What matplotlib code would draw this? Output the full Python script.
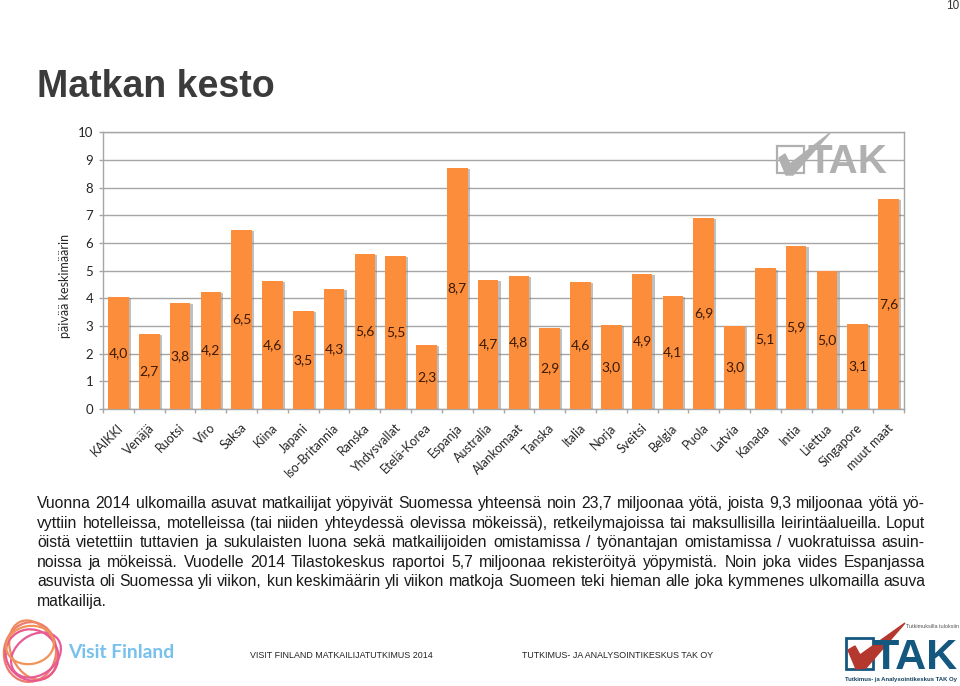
"""Matkan kesto: slide with a bar chart, a body paragraph and footer logos."""
import matplotlib
matplotlib.use("Agg")
import matplotlib.pyplot as plt
import matplotlib.patheffects as pe
from matplotlib.patches import Ellipse, Polygon, Rectangle

categories = ["KAIKKI", "Venäjä", "Ruotsi", "Viro", "Saksa", "Kiina", "Japani",
              "Iso-Britannia", "Ranska", "Yhdysvallat", "Etelä-Korea", "Espanja",
              "Australia", "Alankomaat", "Tanska", "Italia", "Norja", "Sveitsi",
              "Belgia", "Puola", "Latvia", "Kanada", "Intia", "Liettua",
              "Singapore", "muut maat"]
values = [4.05, 2.72, 3.82, 4.22, 6.47, 4.62, 3.55, 4.33, 5.6, 5.52, 2.33, 8.7,
          4.68, 4.8, 2.92, 4.58, 3.05, 4.88, 4.1, 6.92, 3.0, 5.08, 5.9, 5.0,
          3.07, 7.58]
value_labels = ["4,0", "2,7", "3,8", "4,2", "6,5", "4,6", "3,5", "4,3", "5,6",
                "5,5", "2,3", "8,7", "4,7", "4,8", "2,9", "4,6", "3,0", "4,9",
                "4,1", "6,9", "3,0", "5,1", "5,9", "5,0", "3,1", "7,6"]
y_ticks = [0, 1, 2, 3, 4, 5, 6, 7, 8, 9, 10]

body_lines = [
    "Vuonna 2014 ulkomailla asuvat matkailijat yöpyivät Suomessa yhteensä noin 23,7 miljoonaa yötä, joista 9,3 miljoonaa yötä yö-",
    "vyttiin hotelleissa, motelleissa (tai niiden yhteydessä olevissa mökeissä), retkeilymajoissa tai maksullisilla leirintäalueilla. Loput",
    "öistä vietettiin tuttavien ja sukulaisten luona sekä matkailijoiden omistamissa / työnantajan omistamissa / vuokratuissa asuin-",
    "noissa ja mökeissä. Vuodelle 2014 Tilastokeskus raportoi 5,7 miljoonaa rekisteröityä yöpymistä. Noin joka viides Espanjassa",
    "asuvista oli Suomessa yli viikon, kun keskimäärin yli viikon matkoja Suomeen teki hieman alle joka kymmenes ulkomailla asuva",
    "matkailija.",
]
body_baselines = [508, 527.6, 547.2, 566.8, 586.4, 606]

W, H = 960, 686
ORANGE = "#fb8d3b"
GRID = "#a6a6a6"
CHART_FONT = "Lato"
ARIAL = "Liberation Sans"


def justified(fig, line, y, x0, x1, stretch=True, **kw):
    # place word by word so the line fills x0..x1, like the slide's justified text
    words = line.split(" ")
    renderer = fig.canvas.get_renderer()
    items = [fig.text(0, 1 - y / H, w, va="baseline", ha="left", **kw) for w in words]
    widths = [t.get_window_extent(renderer).width for t in items]
    space = 3.6
    if stretch and len(words) > 1:
        space = (x1 - x0 - sum(widths)) / (len(words) - 1)
    x = x0
    for t, w in zip(items, widths):
        t.set_x(x / W)
        x += w + space


def main():
    fig = plt.figure(figsize=(W / 100, H / 100), dpi=100)

    # page furniture on a full-figure overlay, in pixel coordinates
    bg = fig.add_axes([0, 0, 1, 1], zorder=0)
    bg.set_xlim(0, W)
    bg.set_ylim(H, 0)
    bg.axis("off")

    # chart
    ax = fig.add_axes([103 / W, 1 - 409 / H, 801 / W, 276.7 / H], zorder=1)
    ax.patch.set_alpha(0)
    xs = range(len(categories))
    bars = ax.bar(xs, values, width=0.67, color=ORANGE, zorder=3)
    for bar in bars:
        bar.set_path_effects([
            pe.SimplePatchShadow(offset=(1.6, -0.8), shadow_rgbFace="#808080", alpha=0.5),
            pe.Normal()])
    for x, v, lab in zip(xs, values, value_labels):
        ax.text(x, v / 2, lab, ha="center", va="center", fontsize=10,
                family=CHART_FONT, color="#3a1a05", zorder=4)
    ax.set_xlim(-0.5, len(categories) - 0.5)
    ax.set_ylim(0, 10)
    ax.set_yticks(y_ticks)
    ax.set_xticks([i - 0.5 for i in range(len(categories) + 1)], minor=False)
    ax.set_xticklabels([])
    ax.tick_params(axis="x", length=3, color=GRID, width=1)
    ax.tick_params(axis="y", length=3, color=GRID, width=1, labelsize=9.5,
                   labelcolor="#262626", pad=4)
    for lab in ax.get_yticklabels():
        lab.set_family(CHART_FONT)
    ax.grid(axis="y", color=GRID, lw=1, zorder=1)
    ax.set_axisbelow(True)
    for s in ax.spines.values():
        s.set_color(GRID)
        s.set_linewidth(1)
    bg.text(65, 286, "päivää keskimäärin", fontsize=9, family=CHART_FONT,
            color="#262626", rotation=90, ha="center", va="center")
    for x, name in zip(xs, categories):
        ax.annotate(name, (x, 0), xycoords=("data", "axes fraction"),
                    xytext=(-1, -9), textcoords="offset points", rotation=45,
                    rotation_mode="anchor", ha="right", va="top",
                    fontsize=9, family=CHART_FONT, color="#262626")

    # watermark logo inside the chart
    wm = fig.add_axes([0, 0, 1, 1], zorder=2)
    wm.set_xlim(0, W)
    wm.set_ylim(H, 0)
    wm.axis("off")
    wm.add_patch(Rectangle((777, 146), 27, 27, fill=False, ec="#b0b0b0", lw=1.6))
    wm.add_patch(Polygon([(779, 158), (785, 154), (790, 164), (830, 133), (793, 175), (786, 175)],
                         color="#b0b0b0"))
    wm.text(847, 173, "TAK", fontsize=29, fontweight="bold", family=ARIAL, color="#b0b0b0",
            ha="center", va="baseline")

    # header
    bg.text(953, 6, "10", fontsize=8.5, family=ARIAL, color="#333333", ha="center", va="center")
    bg.text(37, 97, "Matkan kesto", fontsize=27, fontweight="bold", family=ARIAL,
            color="#3b3b3b", ha="left", va="baseline")

    # body paragraph
    fig.canvas.draw()
    for i, (line, y) in enumerate(zip(body_lines, body_baselines)):
        justified(fig, line, y, 37, 925, stretch=i < len(body_lines) - 1,
                  fontsize=11.3, family=ARIAL, color="#1a1a1a")

    # Visit Finland logo
    for cx, cy, w, h, ang, col in [
            (30, 652, 52, 60, 10, "#ee7a6e"), (33, 650, 44, 62, -25, "#ef8a5f"),
            (32, 655, 54, 50, 35, "#e8578f"), (36, 655, 40, 54, 55, "#e75c96"),
            (30, 645, 48, 38, -10, "#f0945a")]:
        bg.add_patch(Ellipse((cx, cy), w, h, angle=ang, fill=False, ec=col, lw=1.6))
    bg.text(68, 652, "Visit Finland", fontsize=13.9, fontweight="bold", family="Lato",
            color="#76c1ee", ha="left", va="center")

    # footer texts
    bg.text(250, 656, "VISIT FINLAND MATKAILIJATUTKIMUS 2014", fontsize=6.4, family=ARIAL,
            color="#222222", ha="left", va="center")
    bg.text(522, 656, "TUTKIMUS- JA ANALYSOINTIKESKUS TAK OY", fontsize=6.4, family=ARIAL,
            color="#222222", ha="left", va="center")

    # TAK logo
    bg.add_patch(Rectangle((846, 638), 27, 31, fill=False, ec="#14577f", lw=2))
    bg.text(915, 669, "TAK", fontsize=31, fontweight="bold", family=ARIAL, color="#14577f",
            ha="center", va="baseline")
    bg.add_patch(Polygon([(848, 650), (855, 646), (860, 655), (905, 623), (866, 668), (856, 669)],
                         color="#b5382f"))
    bg.text(906, 626, "Tutkimuksilla tuloksiin", fontsize=4, family=ARIAL, color="#555555",
            ha="left", va="center")
    bg.text(901, 679, "Tutkimus- ja Analysointikeskus TAK Oy", fontsize=4.3, fontweight="bold",
            family=ARIAL, color="#14405f", ha="center", va="center")

    fig.savefig("out.png", dpi=100)
    plt.close(fig)


if __name__ == "__main__":
    main()
